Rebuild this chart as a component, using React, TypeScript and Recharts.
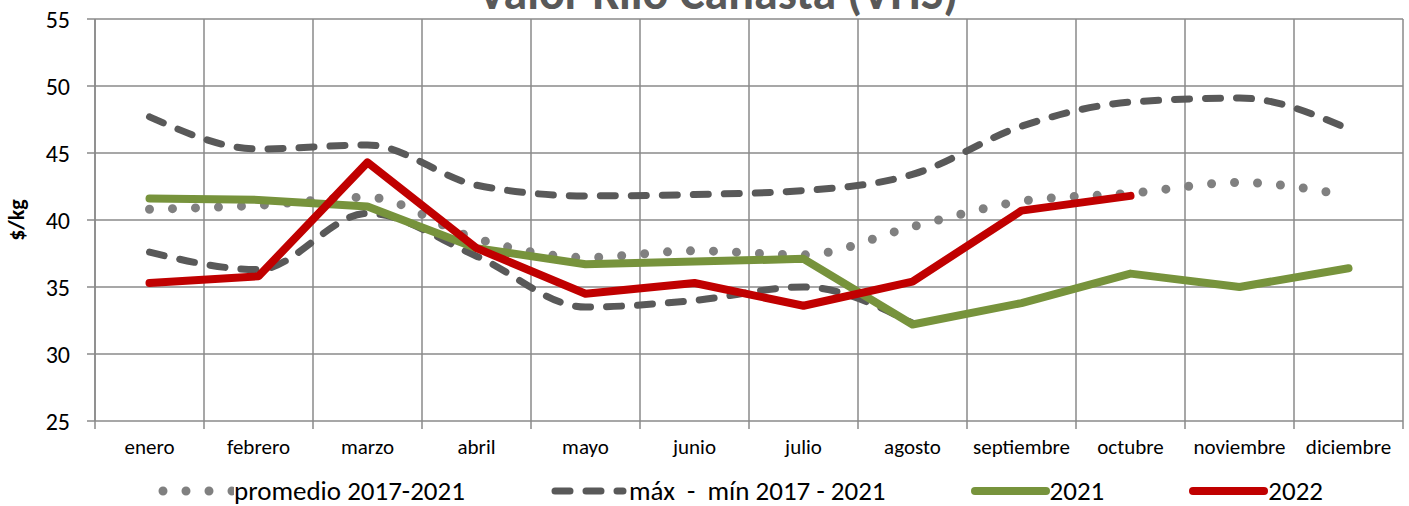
import React from 'react';
import { LineChart, Line, XAxis, YAxis, CartesianGrid } from 'recharts';

const months = ['enero', 'febrero', 'marzo', 'abril', 'mayo', 'junio', 'julio', 'agosto', 'septiembre', 'octubre', 'noviembre', 'diciembre'];
const promedio = [40.8, 41.1, 41.7, 38.6, 37.2, 37.7, 37.4, 39.5, 41.4, 42.0, 42.8, 41.8];
const maximo = [47.7, 45.3, 45.6, 42.6, 41.8, 41.9, 42.2, 43.4, 47.0, 48.8, 49.1, 46.8];
const minimo = [37.6, 36.3, 40.5, 37.3, 33.5, 34.0, 35.0, 32.3, null, null, null, null];
const serie2021 = [41.6, 41.5, 41.0, 37.9, 36.7, 36.9, 37.1, 32.2, 33.8, 36.0, 35.0, 36.4];
const serie2022 = [35.3, 35.8, 44.3, 37.9, 34.5, 35.3, 33.6, 35.4, 40.7, 41.8, null, null];
const yTicks = [25, 30, 35, 40, 45, 50, 55];

const title = 'Valor Kilo Canasta (VHS)';
const yLabel = '$/kg';
const legendLabels = ['promedio 2017-2021', 'máx  -  mín 2017 - 2021', '2021', '2022'];

const FONT = 'Carlito, Calibri, Lato, "Liberation Sans", sans-serif';
const GRID = '#8a8a8a';
const C_PROM = '#808080';
const C_MAX = '#595959';
const C_2021 = '#77933C';
const C_2022 = '#C00000';

const data = months.map((m, i) => ({
  month: m,
  promedio: promedio[i],
  maximo: maximo[i],
  minimo: minimo[i],
  s2021: serie2021[i],
  s2022: serie2022[i],
}));

const YLabel = (props: any) => {
  const vb = props.viewBox || { x: 0, y: 0, width: 0, height: 0 };
  const cx = vb.x + 16;
  const cy = vb.y + vb.height / 2;
  return (
    <text x={cx} y={cy} transform={`rotate(-90 ${cx} ${cy})`} textAnchor="middle" dominantBaseline="central"
      fontFamily={FONT} fontWeight="bold" fontSize={22} fill="#000">
      {yLabel}
    </text>
  );
};

const CatTick = (props: any) => {
  const { x, y, payload, index, visibleTicksCount } = props;
  const half = payload && payload.offset ? payload.offset : 0;
  const last = typeof visibleTicksCount === 'number' ? index === visibleTicksCount - 1 : index === months.length - 1;
  return (
    <g>
      <line x1={x - half} y1={y} x2={x - half} y2={y + 8} stroke={GRID} strokeWidth={1.5} />
      {last ? <line x1={x + half} y1={y} x2={x + half} y2={y + 8} stroke={GRID} strokeWidth={1.5} /> : null}
      <text x={x} y={y + 33} textAnchor="middle" fontFamily={FONT} fontSize={21} fill="#000">
        {payload.value}
      </text>
    </g>
  );
};

const Swatch = ({ kind }: { kind: number }) => {
  if (kind === 0) {
    return (
      <svg width={80} height={14} style={{ display: 'block' }}>
        <line x1={9} y1={7} x2={79} y2={7} stroke={C_PROM} strokeWidth={9} strokeLinecap="round" strokeDasharray="0 23" />
      </svg>
    );
  }
  if (kind === 1) {
    return (
      <svg width={80} height={14} style={{ display: 'block' }}>
        <line x1={6} y1={7} x2={74} y2={7} stroke={C_MAX} strokeWidth={7} strokeLinecap="round" strokeDasharray="15 16" />
      </svg>
    );
  }
  const c = kind === 2 ? C_2021 : C_2022;
  return (
    <svg width={80} height={14} style={{ display: 'block' }}>
      <line x1={5} y1={7} x2={76} y2={7} stroke={c} strokeWidth={8} strokeLinecap="round" />
    </svg>
  );
};

export default function App() {
  return (
    <div style={{ position: 'absolute', left: 0, top: 0, width: 1409, height: 506, background: '#fff' }}>
      <svg style={{ position: 'absolute', left: 0, top: 0 }} width={1409} height={20}>
        <text x={718} y={9} textAnchor="middle" fontFamily={FONT} fontWeight="bold" fontSize={48} fill="#595959">
          {title}
        </text>
      </svg>
      <LineChart width={1409} height={506} data={data} margin={{ top: 19, right: 6, bottom: 55, left: 0 }}>
        <XAxis dataKey="month" scale="band" interval={0} tickLine={false} axisLine={false} tickSize={0} tickMargin={0}
          height={30} tick={<CatTick />} />
        <YAxis domain={[25, 55]} ticks={yTicks} width={95} tickSize={8} tickMargin={17}
          axisLine={{ stroke: GRID, strokeWidth: 1.5 }} tickLine={{ stroke: GRID, strokeWidth: 1.5 }}
          tick={{ fontFamily: FONT, fontSize: 24, fill: '#000' }} label={<YLabel />} />
        <CartesianGrid stroke={GRID} strokeWidth={1.5}
          verticalCoordinatesGenerator={({ offset }: any) =>
            months.concat(['']).map((_, i) => offset.left + (i * offset.width) / months.length)} />
        <Line dataKey="promedio" type="monotone" stroke={C_PROM} strokeWidth={9} strokeLinecap="round"
          strokeDasharray="0 23" dot={false} isAnimationActive={false} />
        <Line dataKey="maximo" type="monotone" stroke={C_MAX} strokeWidth={7} strokeLinecap="round"
          strokeDasharray="15 16" dot={false} isAnimationActive={false} />
        <Line dataKey="minimo" type="monotone" stroke={C_MAX} strokeWidth={7} strokeLinecap="round"
          strokeDasharray="15 16" dot={false} isAnimationActive={false} />
        <Line dataKey="s2021" type="linear" stroke={C_2021} strokeWidth={8} strokeLinecap="round" strokeLinejoin="round"
          dot={false} isAnimationActive={false} />
        <Line dataKey="s2022" type="linear" stroke={C_2022} strokeWidth={8} strokeLinecap="round" strokeLinejoin="round"
          dot={false} isAnimationActive={false} />
      </LineChart>
      <div style={{ position: 'absolute', left: 154, top: 477, height: 28, display: 'flex',
        alignItems: 'center', gap: 84, fontFamily: FONT, fontSize: 27, color: '#000' }}>
        {legendLabels.map((l, i) => (
          <div key={l} style={{ display: 'flex', alignItems: 'center', whiteSpace: 'pre' }}>
            <Swatch kind={i} />
            <span style={{ lineHeight: '28px' }}>{l}</span>
          </div>
        ))}
      </div>
    </div>
  );
}
